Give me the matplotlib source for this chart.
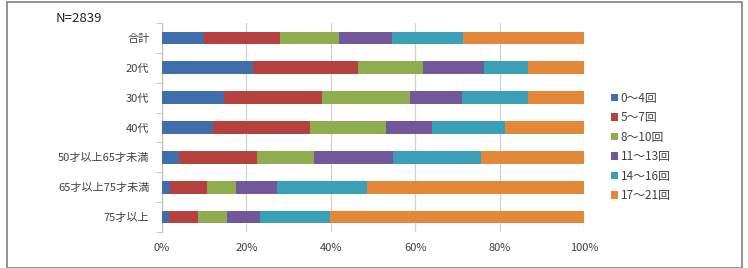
import numpy as np
import matplotlib
matplotlib.use("Agg")
import matplotlib.pyplot as plt
from matplotlib.patches import Rectangle

plt.rcParams['font.family'] = ['Noto Sans CJK JP', 'DejaVu Sans']

categories = ['合計', '20代', '30代', '40代', '50才以上65才未満', '65才以上75才未満', '75才以上']
series_names = ['0～4回', '5～7回', '8～10回', '11～13回', '14～16回', '17～21回']

# percentage shares per category, one list per series
s0_4 = [10.0, 21.6, 14.7, 12.2, 4.1, 2.0, 1.7]
s5_7 = [18.0, 24.8, 23.3, 22.8, 18.5, 8.7, 6.8]
s8_10 = [13.9, 15.4, 20.7, 18.0, 13.4, 6.8, 6.8]
s11_13 = [12.6, 14.4, 12.5, 11.0, 18.8, 9.8, 7.9]
s14_16 = [16.8, 10.5, 15.5, 17.2, 20.8, 21.3, 16.7]
s17_21 = [28.7, 13.3, 13.3, 18.8, 24.4, 51.4, 60.1]

series = [s0_4, s5_7, s8_10, s11_13, s14_16, s17_21]
colors = ['#3f6eaa', '#b5413e', '#8fac4f', '#71589a', '#3b9fb8', '#e38839']

fig = plt.figure(figsize=(7.48, 2.68), dpi=100)
ax = fig.add_axes([162 / 748, 1 - 232 / 268, (584 - 162) / 748, 209 / 268])

y = np.arange(len(categories))
left = np.zeros(len(categories))
for vals, name, col in zip(series, series_names, colors):
    ax.barh(y, vals, left=left, height=0.43, color=col, label=name, zorder=3)
    left += np.array(vals)

ax.set_xlim(0, 100)
ax.set_ylim(len(categories) - 0.5, -0.5)
ax.set_xticks([0, 20, 40, 60, 80, 100])
ax.set_xticklabels(['0%', '20%', '40%', '60%', '80%', '100%'])
ax.set_yticks(y)
ax.set_yticklabels(categories)
ax.set_yticks(np.arange(-0.5, len(categories)), minor=True)
ax.tick_params(axis='y', which='major', length=0, pad=9, labelsize=8, labelcolor='#404040')
ax.tick_params(axis='y', which='minor', length=4, color='#bfbfbf')
ax.tick_params(axis='x', length=0, pad=8, labelsize=8, labelcolor='#404040')
ax.grid(axis='x', color='#d0d0d0', linewidth=0.9, zorder=0)
for s in ['top', 'right', 'bottom']:
    ax.spines[s].set_visible(False)
ax.spines['left'].set_color('#bfbfbf')

leg = fig.legend(loc='upper left', bbox_to_anchor=(600 / 748, 1 - 81 / 268),
                 frameon=False, fontsize=8.5, handlelength=0.6, handleheight=0.6,
                 handletextpad=0.25, labelspacing=0.55)
for t in leg.get_texts():
    t.set_color('#404040')

fig.text(56 / 748, 1 - 18 / 268, 'N=2839', fontsize=9.5, color='#202020', va='center')

fig.patches.append(Rectangle((7 / 748, 0.0), (742 - 7) / 748, 1 - 2 / 268,
                             transform=fig.transFigure, fill=False,
                             edgecolor='#808080', linewidth=1.2))

fig.savefig('out.png', dpi=100)
